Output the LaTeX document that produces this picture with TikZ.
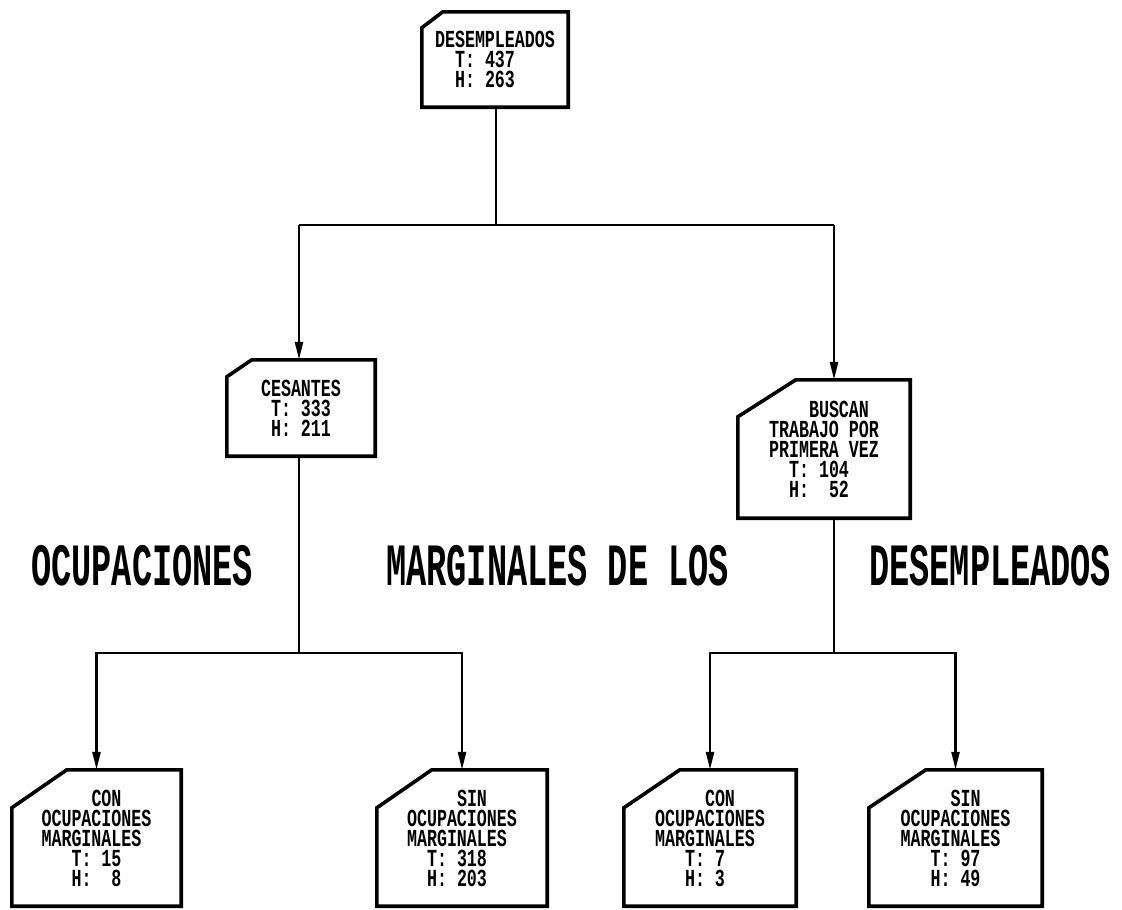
\documentclass[tikz,border=0pt]{standalone}
\usepackage{fontspec}
\usetikzlibrary{arrows.meta}
\newfontfamily\boxfont[FakeStretch=0.68]{Liberation Mono}
\newfontfamily\bigfont[FakeStretch=0.56]{Liberation Mono}
\newcommand\chbox[3]{%
  \draw[boxline] ([xshift=#2pt]#1.north west) -- (#1.north east) -- (#1.south east)
    -- (#1.south west) -- ([yshift=-#3pt]#1.north west) -- cycle;}
\tikzset{
  boxline/.style={line width=3.6pt, line join=miter},
  conn/.style={line width=2.4pt},
  arr/.style={conn, -{Triangle[length=18pt,width=8pt]}},
  bx/.style={inner sep=0pt, align=left,
    font=\boxfont\bfseries\fontsize{24.5}{20}\selectfont},
  big/.style={inner sep=0pt, anchor=west,
    font=\bigfont\bfseries\fontsize{60}{60}\selectfont}
}
\begin{document}
\begin{tikzpicture}[x=1pt,y=-1pt]
\useasboundingbox[fill=white] (0,0) rectangle (1122,910);
% boxes
\node[bx, minimum width=146pt, minimum height=95pt] (d) at (495,59.5)
  {DESEMPLEADOS\\\hphantom{00}T: 437\\\hphantom{00}H: 263};
\node[bx, minimum width=148pt, minimum height=96pt] (c) at (301,408)
  {CESANTES\\\hphantom{0}T: 333\\\hphantom{0}H: 211};
\node[bx, minimum width=172pt, minimum height=138pt] (b) at (824,449)
  {\hphantom{0000}BUSCAN\\TRABAJO POR\\PRIMERA VEZ\\\hphantom{00}T: 104\\\hphantom{00}H: \hphantom{0}52};
\node[bx, minimum width=169pt, minimum height=136pt] (e1) at (96.5,838)
  {\hphantom{00000}CON\\OCUPACIONES\\MARGINALES\\\hphantom{000}T: 15\\\hphantom{000}H: \hphantom{0}8};
\node[bx, minimum width=170pt, minimum height=136pt] (e2) at (462,838)
  {\hphantom{00000}SIN\\OCUPACIONES\\MARGINALES\\\hphantom{00}T: 318\\\hphantom{00}H: 203};
\node[bx, minimum width=172pt, minimum height=136pt] (e3) at (710,838)
  {\hphantom{00000}CON\\OCUPACIONES\\MARGINALES\\\hphantom{000}T: 7\\\hphantom{000}H: 3};
\node[bx, minimum width=173pt, minimum height=136pt] (e4) at (955.5,838)
  {\hphantom{00000}SIN\\OCUPACIONES\\MARGINALES\\\hphantom{000}T: 97\\\hphantom{000}H: 49};
\chbox{d}{21}{16}
\chbox{c}{25}{17}
\chbox{b}{58}{37}
\chbox{e1}{55}{38}
\chbox{e2}{55}{38}
\chbox{e3}{56}{38}
\chbox{e4}{57}{38}
% title text
\node[big] (t1) at (31,566) {OCUPACIONES};
\node[big] (t2) at (386,566) {MARGINALES DE LOS};
\node[big] (t3) at (869,566) {DESEMPLEADOS};
% connectors
\coordinate (j1) at (496,225);
\coordinate (cl) at (299,225);
\coordinate (br) at (834,225);
\coordinate (j2) at (299,653);
\coordinate (j3) at (834,653);
\draw[conn] (j1 |- d.south) -- (j1);
\draw[conn] (cl) -- (br);
\draw[arr] (cl) -- (cl |- c.north);
\draw[arr] (br) -- (br |- b.north);
\draw[conn] (j2 |- c.south) -- (j2);
\draw[conn] (j3 |- b.south) -- (j3);
\draw[arr] (j2) -| (e1.north);
\draw[arr] (j2) -| (e2.north);
\draw[arr] (j3) -| (e3.north);
\draw[arr] (j3) -| (e4.north);
\end{tikzpicture}
\end{document}
